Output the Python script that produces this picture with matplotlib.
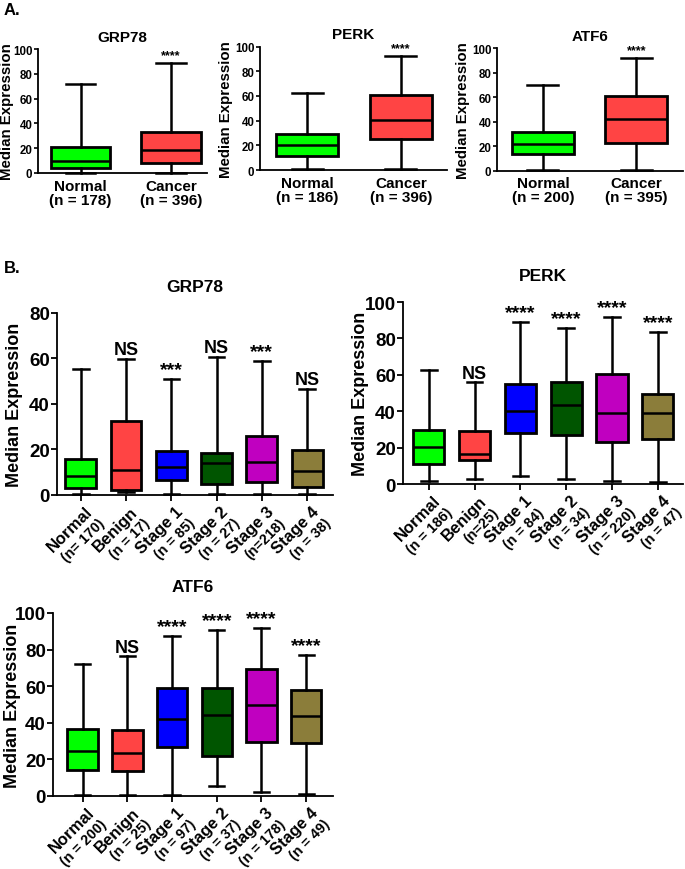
import matplotlib
matplotlib.use("Agg")
import matplotlib.pyplot as plt
import matplotlib.transforms as mtransforms

plt.rcParams.update({
    "font.family": ["Liberation Sans", "DejaVu Sans"],
    "font.weight": "bold",
    "axes.labelweight": "bold",
    "axes.titleweight": "bold",
    "axes.linewidth": 1.3,
})

# ---- panel A: normal vs cancer ----
A_GENES = ["GRP78", "PERK", "ATF6"]
A_GROUPS = ["Normal", "Cancer"]
A_N = [["178", "396"], ["186", "396"], ["200", "395"]]
# per gene: [normal, cancer] -> (min, q1, median, q3, max)
A_MIN = [[0.4, 0.4], [1.0, 1.0], [0.5, 0.5]]
A_Q1 = [[3.8, 8.3], [11.0, 25.0], [13.3, 23.0]]
A_MED = [[10.0, 18.3], [20.3, 40.3], [21.7, 42.5]]
A_Q3 = [[20.7, 33.3], [29.5, 60.8], [31.7, 61.0]]
A_MAX = [[72.0, 89.0], [62.7, 92.2], [70.3, 92.0]]
A_SIG = ["****", "****", "****"]

# ---- panel B: by stage ----
B_GENES = ["GRP78", "PERK", "ATF6"]
B_GROUPS = ["Normal", "Benign", "Stage 1", "Stage 2", "Stage 3", "Stage 4"]
B_N = [
    ["(n= 170)", "(n = 17)", "(n = 85)", "(n = 27)", "(n=218)", "(n = 38)"],
    ["(n = 186)", "(n=25)", "(n = 84)", "(n = 34)", "(n = 220)", "(n = 47)"],
    ["(n = 200)", "(n = 25)", "(n = 97)", "(n = 37)", "(n = 178)", "(n = 49)"],
]
B_MIN = [
    [0.4, 1.2, 0.3, 0.4, 0.4, 0.4],
    [1.5, 2.7, 4.6, 2.7, 1.5, 1.0],
    [0.5, 0.5, 0.5, 5.3, 2.2, 1.3],
]
B_Q1 = [
    [3.1, 2.3, 6.4, 4.7, 5.6, 3.4],
    [11.0, 13.3, 28.3, 27.0, 22.9, 25.0],
    [14.2, 13.7, 26.6, 22.0, 29.7, 29.0],
]
B_MED = [
    [8.5, 11.0, 12.2, 14.2, 14.3, 10.7],
    [20.3, 16.6, 39.9, 43.3, 38.9, 38.8],
    [24.4, 23.5, 42.3, 44.4, 49.7, 43.5],
]
B_Q3 = [
    [15.7, 32.4, 19.3, 18.4, 26.0, 19.9],
    [29.6, 28.9, 54.8, 55.9, 60.3, 49.4],
    [36.8, 35.9, 59.0, 59.0, 69.4, 57.7],
]
B_MAX = [
    [55.2, 59.6, 51.0, 60.5, 59.0, 46.6],
    [62.7, 55.8, 89.2, 85.7, 91.8, 83.5],
    [72.0, 76.3, 87.6, 90.9, 92.0, 77.2],
]
B_SIG = [
    ["", "NS", "***", "NS", "***", "NS"],
    ["", "NS", "****", "****", "****", "****"],
    ["", "NS", "****", "****", "****", "****"],
]
B_YMAX = [80, 100, 100]

A_COLORS = ["#00ff00", "#ff4444"]
B_COLORS = ["#00ff00", "#ff4444", "#0000ff", "#005500", "#c000c0", "#8b7d3a"]

W, H = 685, 870
fig = plt.figure(figsize=(W / 100, H / 100), dpi=100)


def draw_boxes(ax, mins, q1s, meds, q3s, maxs, colors, width):
    stats = []
    for lo, a, m, b, hi in zip(mins, q1s, meds, q3s, maxs):
        stats.append(dict(whislo=lo, q1=a, med=m, q3=b, whishi=hi, fliers=[]))
    pos = list(range(1, len(stats) + 1))
    bp = ax.bxp(stats, positions=pos, widths=width, capwidths=width * 0.5,
                patch_artist=True, showfliers=False, manage_ticks=False,
                boxprops=dict(edgecolor="black", linewidth=2.0),
                whiskerprops=dict(color="black", linewidth=1.8),
                capprops=dict(color="black", linewidth=1.8),
                medianprops=dict(color="black", linewidth=1.8))
    for patch, c in zip(bp["boxes"], colors):
        patch.set_facecolor(c)
    for art in bp["whiskers"] + bp["caps"] + bp["medians"] + bp["boxes"]:
        art.set_clip_on(False)
    return pos


def style_axes(ax):
    for s in ("top", "right"):
        ax.spines[s].set_visible(False)


# panel A axes rects (left, bottom, width, height) and xlims
A_RECTS = [(0.0555, 0.800, 0.247, 0.1425), (0.3796, 0.8034, 0.273, 0.142), (0.7255, 0.8026, 0.2715, 0.1407)]
A_XLIM = [(0.53, 2.40), (0.50, 2.49), (0.508, 2.50)]
A_YLAB_PX = [-24, -27, -27]   # ylabel centre, pixels left of the axis

for i, gene in enumerate(A_GENES):
    ax = fig.add_axes(A_RECTS[i])
    pos = draw_boxes(ax, A_MIN[i], A_Q1[i], A_MED[i], A_Q3[i], A_MAX[i], A_COLORS, 0.66)
    ax.set_xlim(*A_XLIM[i])
    ax.set_ylim(0, 100)
    ax.set_yticks([0, 20, 40, 60, 80, 100])
    ax.tick_params(axis="y", labelsize=8.3, length=3, width=1.2, pad=1)
    ax.set_xticks(pos)
    ax.set_xticklabels([f"{g}\n(n = {n})" for g, n in zip(A_GROUPS, A_N[i])],
                       fontsize=11, linespacing=1.0)
    ax.tick_params(axis="x", length=0, pad=4)
    ax.set_ylabel("Median Expression", fontsize=10.8)
    ax.yaxis.set_label_coords(A_YLAB_PX[i] / (A_RECTS[i][2] * W), 0.5)
    ax.set_title(gene, fontsize=11, pad=6)
    ax.text(2, A_MAX[i][1] + 1.5, A_SIG[i], ha="center", va="bottom", fontsize=9)
    style_axes(ax)

fig.text(0.005, 0.996, "A.", fontsize=12, va="top")
fig.text(0.005, 0.700, "B.", fontsize=12, va="top")

B_RECTS = [(0.083, 0.430, 0.403, 0.2092), (0.588, 0.4425, 0.409, 0.2092), (0.077, 0.084, 0.409, 0.2103)]
B_XLIM = [(0.47, 6.57), (0.43, 6.55), (0.33, 6.60)]
B_YLAB_PX = [-34, -34, -32]

for i, gene in enumerate(B_GENES):
    ax = fig.add_axes(B_RECTS[i])
    pos = draw_boxes(ax, B_MIN[i], B_Q1[i], B_MED[i], B_Q3[i], B_MAX[i], B_COLORS, 0.68)
    ax.set_xlim(*B_XLIM[i])
    ax.set_ylim(0, B_YMAX[i])
    ax.set_yticks(list(range(0, B_YMAX[i] + 1, 20)))
    ax.tick_params(axis="y", labelsize=13.5, length=4, width=1.3, pad=1)
    ax.set_xticks(pos)
    ax.set_xticklabels([])
    ax.tick_params(axis="x", length=4, width=1.3)
    ax.set_ylabel("Median Expression", fontsize=13)
    ax.yaxis.set_label_coords(B_YLAB_PX[i] / (B_RECTS[i][2] * W), 0.5)
    ax.set_title(gene, fontsize=12.5, pad=16)
    trans = ax.get_xaxis_transform()
    off1 = mtransforms.ScaledTranslation(3 / 72, -6 / 72, fig.dpi_scale_trans)
    off2 = mtransforms.ScaledTranslation(12 / 72, -15 / 72, fig.dpi_scale_trans)
    for p, g, n in zip(pos, B_GROUPS, B_N[i]):
        ax.text(p, 0, g, transform=trans + off1, rotation=45, ha="right", va="top",
                rotation_mode="anchor", fontsize=12)
        ax.text(p, 0, n, transform=trans + off2, rotation=45, ha="right", va="top",
                rotation_mode="anchor", fontsize=10.3)
    for p, s, hi in zip(pos, B_SIG[i], B_MAX[i]):
        if s:
            ax.text(p, hi + 0.4, s, ha="center", va="bottom", fontsize=13 if s == "NS" else 14)
    style_axes(ax)

fig.savefig("out.png", dpi=100, facecolor="white")
